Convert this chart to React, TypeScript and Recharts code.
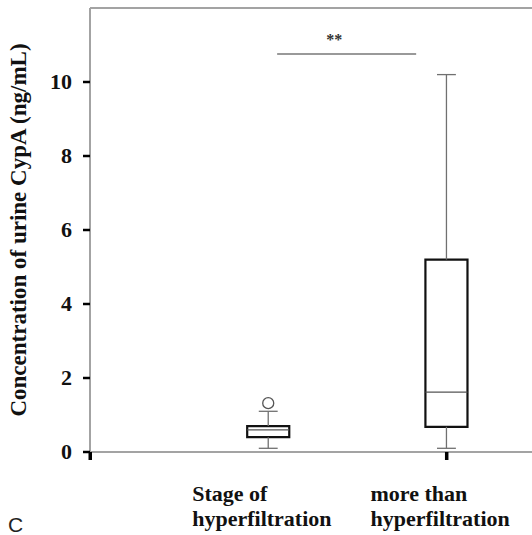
import {
  ComposedChart,
  XAxis,
  YAxis,
  Scatter,
  ReferenceArea,
  ReferenceLine,
  ReferenceDot,
} from "recharts";

// two groups, drawn at x = 1 and x = 2 on a numeric axis
const groupLabels = [
  ["Stage of", "hyperfiltration"],
  ["more than", "hyperfiltration"],
];
const positions = [1, 2];
const mins = [0.1, 0.1];
const q1s = [0.4, 0.68];
const medians = [0.6, 1.62];
const q3s = [0.7, 5.2];
const maxs = [1.1, 10.2];
const outliers = [{ x: 1, y: 1.32 }];

const yTicks = [0, 2, 4, 6, 8, 10];
const xTicks = [0, 1, 2];
const markedXTicks = [0, 2];

const sigFrom = 1.05;
const sigTo = 1.83;
const sigY = 10.76;
const sigText = "**";

const serif = "'Liberation Serif', 'Times New Roman', serif";
const axisGray = "#a3a3a3";
const whiskerGray = "#707070";
const halfBox = 0.118;
const halfCap = 0.053;

const serifBold = { fontFamily: serif, fontWeight: 700 };

const XTick = (props: any) => {
  const { x, y, payload } = props;
  const v = payload.value;
  const idx = positions.indexOf(v);
  return (
    <g>
      {markedXTicks.includes(v) && (
        <rect x={x - 1.5} y={y} width={3.5} height={8} fill="#000" />
      )}
      {idx >= 0 && (
        <g fill="#111">
          <text x={x - 76} y={y + 49} textAnchor="start" style={{ ...serifBold, fontSize: 22 }}>
            {groupLabels[idx][0]}
          </text>
          <text x={x - 76} y={y + 74} textAnchor="start" style={{ ...serifBold, fontSize: 22 }}>
            {groupLabels[idx][1]}
          </text>
        </g>
      )}
    </g>
  );
};

const YTick = (props: any) => {
  const { x, y, payload } = props;
  return (
    <text x={x} y={y} dy={7} textAnchor="end" fill="#111" style={{ ...serifBold, fontSize: 22 }}>
      {payload.value}
    </text>
  );
};

const OutlierShape = (props: any) => (
  <circle cx={props.cx} cy={props.cy} r={5.5} fill="#fff" stroke="#555" strokeWidth={1.3} />
);

export default function App() {
  return (
    <div style={{ position: "absolute", left: 0, top: 0, width: 532, height: 535, overflow: "hidden", background: "#fff" }}>
      <ComposedChart width={532} height={535} margin={{ top: 8, right: 0, bottom: 0, left: 0 }}>
        <XAxis
          type="number"
          dataKey="x"
          domain={[0, 2.48]}
          ticks={xTicks}
          allowDataOverflow
          height={83}
          tickSize={0}
          tickMargin={0}
          tickLine={false}
          axisLine={{ stroke: axisGray, strokeWidth: 2 }}
          tick={<XTick />}
          interval={0}
        />
        <YAxis
          type="number"
          dataKey="y"
          domain={[0, 12]}
          ticks={yTicks}
          width={90}
          tickSize={7}
          tickMargin={11}
          tickLine={{ stroke: "#000", strokeWidth: 2.5 }}
          axisLine={{ stroke: axisGray, strokeWidth: 2 }}
          tick={<YTick />}
          interval={0}
          label={{
            content: () => (
              <text
                x={26}
                y={230}
                transform="rotate(-90 26 230)"
                textAnchor="middle"
                fill="#111"
                style={{ ...serifBold, fontSize: 23 }}
              >
                Concentration of urine CypA (ng/mL)
              </text>
            ),
          }}
        />
        <ReferenceLine y={12} stroke={axisGray} strokeWidth={2} />
        {positions.map((p, i) => (
          <ReferenceLine
            key={`wu-${i}`}
            segment={[{ x: p, y: q3s[i] }, { x: p, y: maxs[i] }]}
            stroke={whiskerGray}
            strokeWidth={1.3}
          />
        ))}
        {positions.map((p, i) => (
          <ReferenceLine
            key={`wl-${i}`}
            segment={[{ x: p, y: mins[i] }, { x: p, y: q1s[i] }]}
            stroke={whiskerGray}
            strokeWidth={1.3}
          />
        ))}
        {positions.map((p, i) => (
          <ReferenceLine
            key={`cu-${i}`}
            segment={[{ x: p - halfCap, y: maxs[i] }, { x: p + halfCap, y: maxs[i] }]}
            stroke={whiskerGray}
            strokeWidth={1.3}
          />
        ))}
        {positions.map((p, i) => (
          <ReferenceLine
            key={`cl-${i}`}
            segment={[{ x: p - halfCap, y: mins[i] }, { x: p + halfCap, y: mins[i] }]}
            stroke={whiskerGray}
            strokeWidth={1.3}
          />
        ))}
        {positions.map((p, i) => (
          <ReferenceArea
            key={`box-${i}`}
            x1={p - halfBox}
            x2={p + halfBox}
            y1={q1s[i]}
            y2={q3s[i]}
            fill="#fff"
            fillOpacity={1}
            stroke="#111"
            strokeWidth={2.2}
          />
        ))}
        {positions.map((p, i) => (
          <ReferenceLine
            key={`med-${i}`}
            segment={[{ x: p - halfBox, y: medians[i] }, { x: p + halfBox, y: medians[i] }]}
            stroke="#555"
            strokeWidth={1.3}
          />
        ))}
        <ReferenceLine
          segment={[{ x: sigFrom, y: sigY }, { x: sigTo, y: sigY }]}
          stroke="#777"
          strokeWidth={1.5}
        />
        <ReferenceDot
          x={1.37}
          y={sigY}
          r={0}
          fill="none"
          stroke="none"
          label={{ value: sigText, position: "top", offset: 9, fill: "#333", style: { ...serifBold, fontSize: 16 } }}
        />
        <Scatter data={outliers} shape={<OutlierShape />} isAnimationActive={false} />
      </ComposedChart>
      <div
        style={{
          position: "absolute",
          left: 8,
          top: 513,
          fontFamily: "'Liberation Sans', Arial, sans-serif",
          fontSize: 21,
          color: "#222",
          lineHeight: "24px",
        }}
      >
        C
      </div>
    </div>
  );
}
